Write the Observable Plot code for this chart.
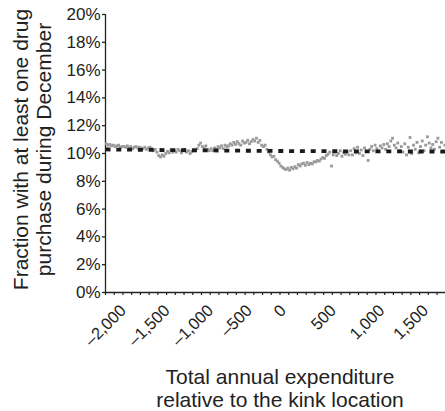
<!DOCTYPE html>
<html><head><meta charset="utf-8">
<script src="https://cdn.jsdelivr.net/npm/d3@7"></script>
<script src="https://cdn.jsdelivr.net/npm/@observablehq/plot@0.6"></script>
<style>
html,body{margin:0;padding:0;background:#fff;overflow:hidden;}
</style>
</head><body><div id="chart"></div>
<script>
// Bin centers (total annual expenditure relative to kink, $20 bins)
const binStart = -1990, binStep = 20, binCount = 195;
const binCenters = Array.from({length: binCount}, (_, i) => binStart + i * binStep);

// Fraction (%) with at least one drug purchase during December
const fracValues = [
  10.7,10.6,10.65,10.55,10.6,10.5,10.55,10.6,10.45,10.5,
  10.5,10.45,10.55,10.4,10.5,10.35,10.45,10.5,10.4,10.45,
  10.4,10.35,10.45,10.3,10.4,10.45,10.35,10.2,10.3,10.1,
  9.85,9.75,9.9,9.8,10.0,10.15,10.05,10.25,10.1,10.2,
  10.1,10.3,10.2,10.05,10.25,10.3,10.1,10.2,10.0,10.15,
  10.3,10.2,10.35,10.6,10.75,10.5,10.4,10.55,10.3,10.2,
  10.35,10.2,10.4,10.3,10.5,10.4,10.55,10.35,10.6,10.5,
  10.55,10.7,10.6,10.8,10.65,10.85,10.7,10.6,10.9,10.75,
  10.8,10.95,10.7,10.85,11.0,10.9,11.1,10.8,10.95,10.6,
  10.5,10.6,10.3,10.1,9.9,9.75,9.8,9.55,9.45,9.3,
  9.1,9.0,8.9,8.85,8.95,8.8,9.0,8.9,9.05,8.95,
  9.2,9.1,9.25,9.3,9.15,9.35,9.2,9.3,9.25,9.4,
  9.4,9.5,9.45,9.6,9.7,9.65,9.85,9.95,10.1,9.1,
  9.9,10.15,9.85,10.0,10.2,9.8,10.05,9.95,10.1,9.9,
  10.2,9.9,10.35,10.05,10.45,10.0,10.25,9.85,10.4,10.15,
  9.5,10.3,10.5,10.2,10.6,10.35,10.15,10.55,10.4,10.65,
  10.3,10.7,10.5,10.9,11.1,10.6,10.4,10.75,10.2,10.5,
  10.1,10.7,9.9,10.45,11.15,10.0,10.6,10.3,10.8,10.05,
  10.5,10.9,10.2,10.6,11.2,10.75,10.4,10.65,10.3,10.85,
  11.1,10.45,10.8,10.2,10.6
];

// Fitted counterfactual (dotted line)
const fitX = [-2000, -1000, 0, 1000, 2000];
const fitY = [10.29, 10.23, 10.18, 10.15, 10.14];

// Ticks
const yTicks = [0, 2, 4, 6, 8, 10, 12, 14, 16, 18, 20];
const yTickLabels = ["0%","2%","4%","6%","8%","10%","12%","14%","16%","18%","20%"];
const xMinorTicks = Array.from({length: 41}, (_, i) => -2000 + i * 100);
const xLabelTicks = [-2000, -1500, -1000, -500, 0, 500, 1000, 1500];
const xTickLabels = ["\u20132,000", "\u20131,500", "\u20131,000", "\u2013500", "0", "500", "1,000", "1,500"];

const yTitle = "Fraction with at least one drug\npurchase during December";
const xTitle = "Total annual expenditure\nrelative to the kink location";

const points = binCenters.map((x, i) => ({x, y: fracValues[i]}));
const fit = fitX.map((x, i) => ({x, y: fitY[i]}));

const FONT = "'Liberation Sans', Arial, sans-serif";
const tickFont = 16.5;
const ctx = document.createElement("canvas").getContext("2d");
ctx.font = `${tickFont}px ${FONT}`;
const capH = 0.716 * tickFont;
const labelTop = 303, axisY = 292;

const xLabelMarks = xTickLabels.map((t, i) => {
  const w = ctx.measureText(t).width;
  const dy = labelTop + (w + capH) * 0.3536 - axisY;
  return Plot.text([xLabelTicks[i]], {
    x: d => d, text: () => t, frameAnchor: "bottom", rotate: -45,
    textAnchor: "middle", lineAnchor: "middle", dy, fontSize: tickFont, fill: "#222"
  });
});

const chart = Plot.plot({
  width: 445, height: 411,
  marginLeft: 105, marginRight: 0, marginTop: 14, marginBottom: 119,
  x: {domain: [-2000, 2000], range: [105, 454]},
  y: {domain: [0, 20]},
  style: {fontFamily: FONT, background: "white", color: "#222"},
  marks: [
    Plot.axisY(yTicks, {tickSize: 3, tickPadding: 2, tickFormat: d => yTickLabels[yTicks.indexOf(d)], fontSize: 17, strokeWidth: 1.3, label: null}),
    Plot.axisX(xMinorTicks, {tickSize: 3, tickFormat: () => "", strokeWidth: 1.2, label: null}),
    Plot.ruleX([-2000], {strokeWidth: 1.3, stroke: "#222"}),
    Plot.ruleY([0], {strokeWidth: 1.3, stroke: "#222"}),
    Plot.dot(points, {x: "x", y: "y", symbol: "square", r: 1.6, fill: "#9a9a9a", stroke: "none"}),
    Plot.line(fit, {x: "x", y: "y", stroke: "#1a1a1a", strokeWidth: 3.8, strokeDasharray: "5,5.8", strokeLinecap: "butt"}),
    ...xLabelMarks,
    Plot.text([yTitle], {frameAnchor: "left", rotate: -90, text: d => d, textAnchor: "middle", lineAnchor: "middle", lineHeight: 1.1, dx: -73.5, dy: -4, fontSize: 21, fill: "#222"}),
    Plot.text([xTitle], {frameAnchor: "bottom", text: d => d, textAnchor: "middle", lineAnchor: "top", lineHeight: 1.07, dx: 4.5, dy: 76, fontSize: 21, fill: "#222"})
  ]
});
document.getElementById("chart").append(chart);
</script>
</body></html>
